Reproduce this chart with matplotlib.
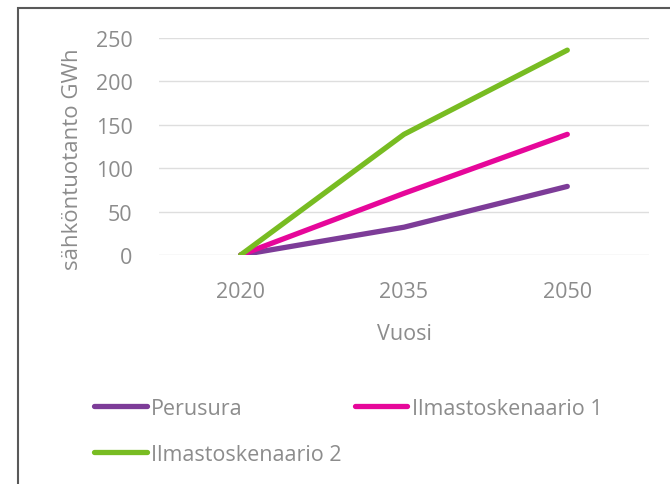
import matplotlib.pyplot as plt
from matplotlib.patches import Rectangle

years = ["2020", "2035", "2050"]
perusura = [0, 32, 79]
ilmasto1 = [0, 71, 139]
ilmasto2 = [0, 139, 236]
yticks = [0, 50, 100, 150, 200, 250]

plt.rcParams['font.family'] = ['Open Sans', 'DejaVu Sans']
grey = '#8c8c8c'
fs = 15.5

fig = plt.figure(figsize=(6.7, 4.85), dpi=100)
ax = fig.add_axes([0.2373, 0.4722, 0.7313, 0.4474])

x = range(len(years))
l1, = ax.plot(x, perusura, color='#7d3c98', lw=3.8, solid_capstyle='round', label='Perusura')
l2, = ax.plot(x, ilmasto1, color='#e6079a', lw=3.8, solid_capstyle='round', label='Ilmastoskenaario 1')
l3, = ax.plot(x, ilmasto2, color='#78bc22', lw=3.8, solid_capstyle='round', label='Ilmastoskenaario 2')

ax.set_xlim(-0.5, 2.5)
ax.set_ylim(0, 250)
ax.set_xticks(list(x))
ax.set_xticklabels(years)
ax.set_yticks(yticks)
ax.yaxis.grid(True, color='#dedede', lw=1)
ax.set_axisbelow(True)
for s in ax.spines.values():
    s.set_visible(False)
ax.tick_params(length=0, labelsize=fs, labelcolor=grey)
ax.tick_params(axis='y', pad=19)
ax.tick_params(axis='x', pad=19)
ax.set_xlabel("Vuosi", fontsize=fs, color=grey, labelpad=15)
# y label sits a bit lower than axes centre in the original
fig.text(72 / 670, 1 - 159 / 485, "sähköntuotanto GWh", rotation=90, fontsize=16,
         color=grey, ha='center', va='center')

# legend: order so that col 1 = Perusura, Ilmastoskenaario 2
fig.legend([l1, l3, l2], ['Perusura', 'Ilmastoskenaario 2', 'Ilmastoskenaario 1'],
           ncol=2, loc='upper left', bbox_to_anchor=(83 / 670, 1 - 388 / 485), frameon=False,
           fontsize=fs, labelcolor=grey, handlelength=2.45, handletextpad=0.22,
           columnspacing=0.6, labelspacing=1.15, borderpad=0)

# outer frame, cut at right and bottom
fig.patches.append(Rectangle((18 / 670, -0.2), 2, 1.1814, transform=fig.transFigure,
                             fill=False, edgecolor='#595959', lw=1.5))

fig.savefig("out.png", dpi=100)
